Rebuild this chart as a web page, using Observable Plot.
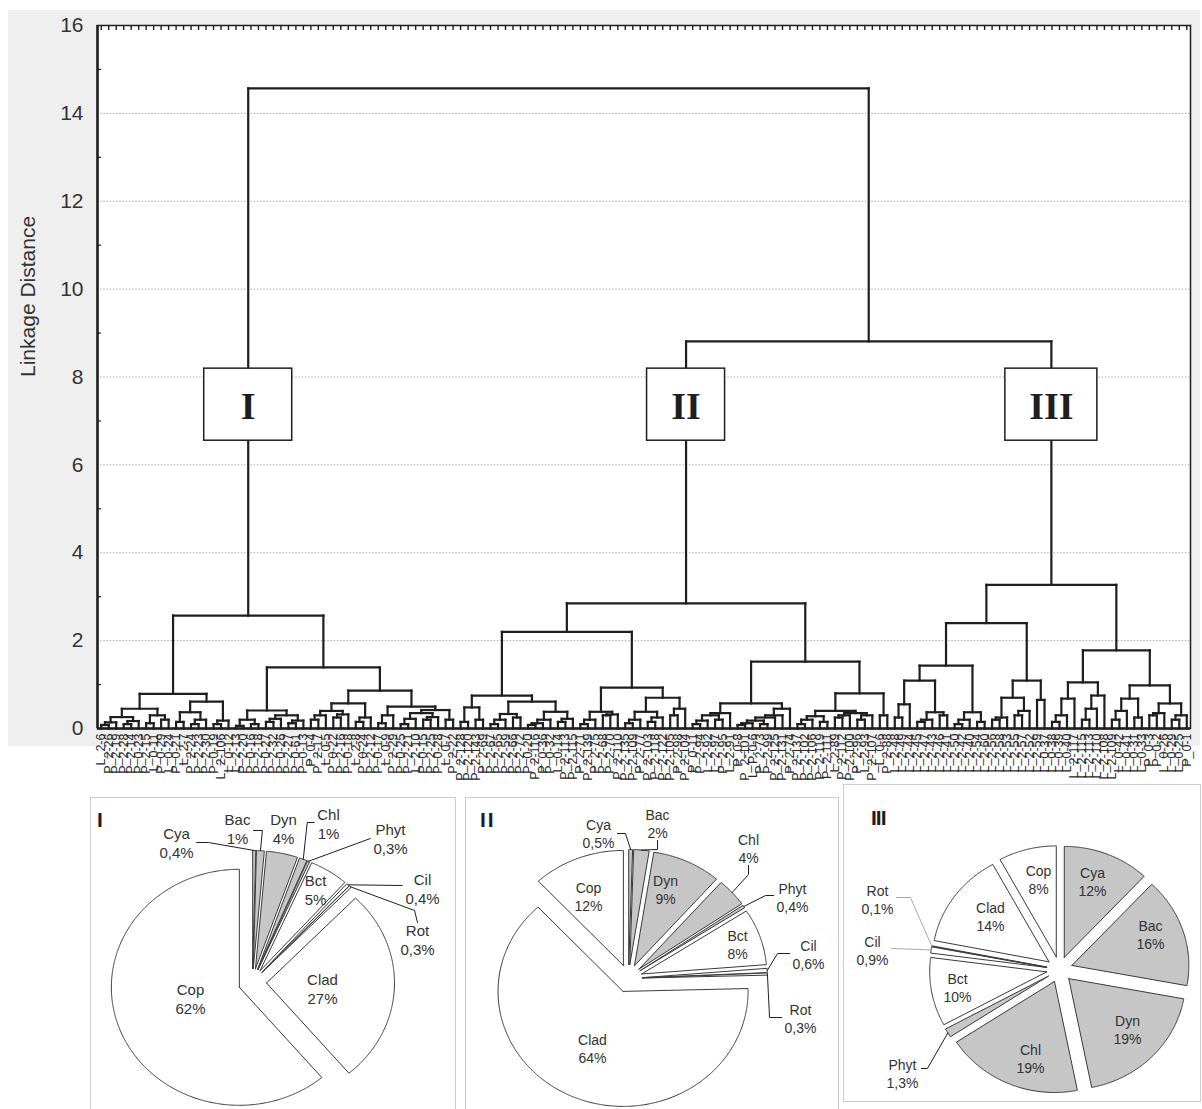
<!DOCTYPE html>
<html><head><meta charset="utf-8">
<script src="https://cdn.jsdelivr.net/npm/d3@7"></script>
<script src="https://cdn.jsdelivr.net/npm/@observablehq/plot@0.6"></script>
<style>
body{margin:0;background:#fff;}
#page{position:relative;width:1202px;height:1109px;overflow:hidden;font-family:Arial,"Liberation Sans",sans-serif;}
#page svg{position:absolute;}
.box{position:absolute;border:1px solid #cdcdcd;box-sizing:border-box;}
</style></head><body><div id="page"></div>
<script>
// ---------------- DATA ----------------
const leafLabels = [
"L_2-6","P_2-26","P_2-19","P_2-28","P_2-14","P_0-23","P_2-15","L_0-11","P_0-29","L_0-24","P_0-21","L_2-7","P_2-24","P_2-23","P_2-30","P_0-19","L_2-106","L_0-12","L_2-13","P_2-20","P_0-16","P_2-18","P_0-27","P_2-32","P_0-26","P_2-27","P_0-61","P_0-13","P_0-4","P_2-17","L_0-5","P_0-22","P_2-16","P_0-18","L_2-8","P_0-24","P_2-12","P_0-17","L_0-9","P_2-29","P_0-25","P_2-21","L_2-10","P_0-15","P_2-25","P_0-28","L_0-7","P_2-22",
"P_2-128","P_2-120","P_2-143","P_2-69","P_2-67","P_2-65","P_2-59","P_2-66","P_2-72","P_0-20","P_2-116","P_0-36","P_0-32","L_0-14","P_2-113","P_2-115","P_2-71","P_2-139","P_2-75","P_2-68","P_2-70","P_2-110","P_2-135","P_2-109","P_2-77","P_2-103","P_2-118","P_2-122","P_2-105","P_2-98","P_2-104","P_0-11","P_2-94","L_2-92","L_2-97","P_2-95","L_2-91","P_0-8","P_2-101","L_P-0-6","P_2-73","P_2-99","P_2-125","P_2-131","P_2-74","P_2-137","P_2-102","P_2-106","P_2-119","P_2-111","L_2-89","P_2-112","P_2-100","P_2-96","L_2-93","P_2-107","L_0-6","P_2-88",
"L_2-48","L_2-49","L_2-44","L_2-45","L_2-47","L_2-43","L_2-46","L_2-41","L_2-50","L_2-42","L_2-40","L_2-54","L_2-60","L_2-56","L_2-58","L_2-53","L_2-55","L_2-57","L_2-52","L_2-59","L_0-37","L_0-38","L_0-39","L_0-40","L_2-117","L_2-115","L_2-113","L_2-110","L_2-108","L_2-109","L_0-42","L_0-41","L_0-31","L_0-33","P_0-3","P_0-2","L_0-26","L_0-29","L_0-25","P_0-1"
];
// sub-clusters: "*" = next leaf, "(a,b)h" = merge at linkage distance h
const subA1 = "((((*,*)0.08,*)0.14,((*,*)0.1,*)0.17)0.26,((*,*)0.12,(*,*)0.2)0.3)0.45";
const subA2 = "(((*,*)0.15,((*,*)0.1,*)0.2)0.37,((*,*)0.1,*)0.18)0.61";
const subB1a = "((*,*)0.06,(*,*)0.1)0.2";
const subB1b = "(((*,*)0.15,*)0.22,((*,*)0.12,*)0.18)0.3";
const subB2a = "((((*,*)0.2,*)0.3,((*,*)0.25,*)0.32)0.4,((*,*)0.15,*)0.25)0.57";
const subB2b = "(((*,*)0.12,*)0.3,((((*,*)0.1,*)0.22,((*,*)0.2,*)0.26)0.35,(*,*)0.2)0.42)0.5";
const subIIa1L = "((*,*)0.15,(*,*)0.2)0.48";
const subIIa1R = "((((*,*)0.1,*)0.2,(*,*)0.25)0.33,((((*,*)0.08,*)0.12,*)0.2,((*,*)0.15,*)0.22)0.38)0.61";
const subIIa2L = "(((*,*)0.1,*)0.2,((*,*)0.3,*)0.32)0.38";
const subIIa2R = "((((*,*)0.12,*)0.2,((*,*)0.15,*)0.25)0.38,((*,*)0.3,*)0.45)0.7";
const subIIb1 = "(((((*,*)0.1,*)0.18,(*,*)0.2)0.3,*)0.35,((((((*,*)0.08,*)0.12,(*,*)0.1)0.18,*)0.25,*)0.3,*)0.45)0.57";
const subIIb2L = "((((*,*)0.1,*)0.2,(*,*)0.15)0.28,(((*,*)0.25,*)0.3,((*,*)0.2,*)0.3)0.35)0.4";
const subIIb2R = "(*,*)0.3";
const subIIIx = "((*,*)0.25,*)0.55";
const subIIIy = "(((*,*)0.15,*)0.2,(*,*)0.3)0.37";
const subIIIa1R = "(((*,*)0.1,*)0.2,(*,*)0.15)0.37";
const subIIIa2L = "(((*,*)0.2,*)0.25,((*,*)0.3,*)0.4)0.7";
const subIIIa2R = "(*,*)0.65";
const subIIIb1L = "(((*,*)0.15,*)0.3,*)0.68";
const subIIIb1R = "(((*,*)0.2,*)0.45,*)0.75";
const subIIIb2L = "(((*,*)0.2,*)0.4,(*,*)0.25)0.68";
const subIIIb2R = "(((*,*)0.3,*)0.35,((*,*)0.2,*)0.3)0.57";
const m = (a, b, h) => `(${a},${b})${h}`;
const treeI = m(m(subA1, subA2, 0.79), m(m(subB1a, subB1b, 0.41), m(subB2a, subB2b, 0.86), 1.39), 2.57);
const treeII = m(m(m(subIIa1L, subIIa1R, 0.75), m(subIIa2L, subIIa2R, 0.93), 2.2), m(subIIb1, m(subIIb2L, subIIb2R, 0.8), 1.52), 2.85);
const treeIII = m(m(m(m(subIIIx, subIIIy, 1.09), subIIIa1R, 1.43), m(subIIIa2L, subIIIa2R, 1.09), 2.4), m(m(subIIIb1L, subIIIb1R, 1.05), m(subIIIb2L, subIIIb2R, 0.98), 1.78), 3.27);
const treeAll = m(treeI, m(treeII, treeIII, 8.81), 14.57);
const clusterNames = ["I", "II", "III"];
const yTicks = [0, 2, 4, 6, 8, 10, 12, 14, 16];
const yMinorTicks = [1, 3, 5, 7, 9, 11, 13, 15];
const yLabel = "Linkage Distance";

const pieGroups = ["Cya", "Bac", "Dyn", "Chl", "Phyt", "Bct", "Cil", "Rot", "Clad", "Cop"];
const phytoGroups = ["Cya", "Bac", "Dyn", "Chl", "Phyt"];
const pieValuesI = [0.4, 1, 4, 1, 0.3, 5, 0.4, 0.3, 27, 62];
const pieValuesII = [0.5, 2, 9, 4, 0.4, 8, 0.6, 0.3, 64, 12];
const pieValuesIII = [12, 16, 19, 19, 1.3, 10, 0.9, 0.1, 14, 8];

// ---------------- LAYOUT / STYLE ----------------
const W = 1202;
const dM = {left: 97, right: 12, top: 25, bottom: 67};
const dH = 795;
const ink = "#1e1e1e";
const boxY = [6.55, 8.19];
const boxW = [88, 78, 92];

function parseTree(str) {
  let pos = 0;
  function node() {
    if (str[pos] === "*") { pos++; return {h: 0}; }
    if (str[pos] === "(") {
      pos++;
      const a = node(); pos++;
      const b = node(); pos++;
      const mm = /^[0-9.]+/.exec(str.slice(pos));
      pos += mm[0].length;
      return {h: +mm[0], children: [a, b]};
    }
    throw new Error("bad tree at " + pos);
  }
  return node();
}
const root = parseTree(treeAll);
let leafCount = 0;
const segs = [];
(function lay(n) {
  if (!n.children) { n.x = leafCount++; return; }
  n.children.forEach(lay);
  n.x = (n.children[0].x + n.children[1].x) / 2;
  segs.push({x1: n.children[0].x, x2: n.children[1].x, y1: n.h, y2: n.h});
  n.children.forEach(c => segs.push({x1: c.x, x2: c.x, y1: c.h, y2: n.h}));
})(root);
const N = leafCount;
const leafIdx = d3.range(N);
const pxPerLeaf = (W - dM.left - dM.right) / N;
const pxPerY = (dH - dM.top - dM.bottom) / 16;
const clusters = [root.children[0], root.children[1].children[0], root.children[1].children[1]]
  .map((n, i) => ({name: clusterNames[i], x: n.x, w: boxW[i]}));

const page = document.getElementById("page");
const bg = document.createElement("div");
Object.assign(bg.style, {position: "absolute", left: "8px", top: "10px", width: "1192px", height: "736px", background: "#efefef"});
page.appendChild(bg);

const dendro = Plot.plot({
  width: W, height: dH,
  marginLeft: dM.left, marginRight: dM.right, marginTop: dM.top, marginBottom: dM.bottom,
  x: {domain: [-0.5, N - 0.5], axis: null},
  y: {domain: [0, 16], axis: null},
  style: {background: "transparent", fontFamily: "Arial, 'Liberation Sans', sans-serif", color: "#222", overflow: "visible"},
  marks: [
    Plot.frame({fill: "white", stroke: ink, strokeWidth: 1.5}),
    Plot.ruleY(yTicks.filter(t => t > 0 && t < 16), {y: d => d, stroke: "#9a9a9a", strokeDasharray: "1.2,2", strokeWidth: 1}),
    Plot.ruleX(leafIdx, {x: d => d, y1: () => 16, y2: () => 16 - 5 / pxPerY, stroke: ink, strokeWidth: 1.4}),
    Plot.ruleY(yMinorTicks, {y: d => d, x1: () => -0.5, x2: () => -0.5 + 4 / pxPerLeaf, stroke: ink, strokeWidth: 1.2}),
    Plot.link(segs, {x1: "x1", x2: "x2", y1: "y1", y2: "y2", stroke: ink, strokeWidth: 2.2, strokeLinecap: "square"}),
    Plot.rect(clusters, {x1: d => d.x - d.w / 2 / pxPerLeaf, x2: d => d.x + d.w / 2 / pxPerLeaf, y1: () => boxY[0], y2: () => boxY[1], fill: "white", stroke: ink, strokeWidth: 1.5}),
    Plot.text(clusters, {x: "x", y: () => (boxY[0] + boxY[1]) / 2, text: "name", fontFamily: "'Liberation Serif', 'Times New Roman', serif", fontWeight: "bold", fontSize: 38, fill: ink, dy: 2}),
    Plot.ruleX([-0.5], {x: d => d, stroke: ink, strokeWidth: 2.5}),
    Plot.ruleY([0], {y: d => d, stroke: ink, strokeWidth: 2.5}),
    Plot.axisY({ticks: yTicks, tickSize: 0, tickPadding: 14, fontSize: 21, label: null, fill: "#333"}),
    Plot.axisX({ticks: leafIdx, tickFormat: i => leafLabels[i] || "", tickRotate: -90, tickSize: 0, tickPadding: 5, fontSize: 12.5, label: null, anchor: "bottom", fill: "#2a2a2a"}),
    Plot.text([yLabel], {frameAnchor: "left", dx: -69, rotate: -90, fontSize: 21, fill: "#333"})
  ]
});
dendro.style.left = "0px"; dendro.style.top = "0px";
page.appendChild(dendro);

// ---------------- PIES ----------------
const pieBoxes = [
  {x: 90, y: 797, w: 366, h: 320, cx: 252, cy: 982, rx: 128, ry: 118, ex: 14, fs: 15, roman: [-155, -162]},
  {x: 465, y: 797, w: 374, h: 320, cx: 628, cy: 978, rx: 125, ry: 115, ex: 14, fs: 14, roman: [-148, -158]},
  {x: 843, y: 784, w: 358, h: 318, cx: 1059, cy: 969, rx: 117, ry: 111, ex: 13, fs: 14, roman: [-188, -151]}
];
const labelOffsets = [
  [[-76,-140],[-15,-154],[31,-154],[76,-159],[138,-144],[63,-93],[170,-94],[165,-43],[70,6],[-62,16]],
  [[-30,-145],[29,-155],[37,-89],[120,-130],[164,-81],[109,-34],[180,-24],[172,40],[-36,70],[-40,-82]],
  [[33,-88],[91,-35],[68,60],[-29,89],[-157,104],[-102,18],[-187,-19],[-182,-70],[-69,-53],[-21,-90]]
];
const leaderSpecs = [
  {0: ["r",12,0,0,ink], 1: ["r",9,0,2,ink], 3: ["l",-7,0,-1,ink], 4: ["l",0,0,0,ink], 6: ["l",0,0,-3,ink], 7: ["t",-3,-12,0,ink]},
  {0: ["r",8,0,0,ink], 1: ["b",0,9,0,ink], 3: ["b",0,9,0,ink], 4: ["l",-8,0,-2,ink], 6: ["l",-12,0,-1,ink], 7: ["l",-12,0,-1,ink]},
  {4: ["r",6,0,-5,ink], 6: ["r",0,0,-2,"#a8a8a8"], 7: ["r",14,0,-2,"#a8a8a8"]}
];
const ctx = document.createElement("canvas").getContext("2d");
const fmtPct = v => String(v).replace(".", ",") + "%";

function drawPie(values, box, offsets, leaders) {
  const total = d3.sum(values);
  let acc = 0;
  const slices = values.map((v, i) => {
    const a0 = acc / total * 2 * Math.PI; acc += v;
    const a1 = acc / total * 2 * Math.PI;
    const mid = (a0 + a1) / 2;
    const ax = box.ex * Math.sin(mid), ay = -box.ex * Math.cos(mid);
    const n = Math.max(2, Math.ceil((a1 - a0) / (Math.PI / 360)));
    const pts = [{x: ax, y: ay}];
    for (let k = 0; k <= n; k++) {
      const a = a0 + (a1 - a0) * k / n;
      pts.push({x: ax + box.rx * Math.sin(a), y: ay - box.ry * Math.cos(a)});
    }
    pts.push({x: ax, y: ay});
    return {i, group: pieGroups[i], value: v, pts,
      target: {x: ax + box.rx * Math.sin(mid), y: ay - box.ry * Math.cos(mid)}};
  });
  ctx.font = box.fs + "px Arial, 'Liberation Sans'";
  const labels = slices.map(s => {
    const text = s.group + "\n" + fmtPct(s.value);
    const w = d3.max(text.split("\n"), t => ctx.measureText(t).width);
    return {x: offsets[s.i][0], y: offsets[s.i][1], text, w, i: s.i};
  });
  const leaderLines = [];
  labels.forEach(l => {
    const sp = leaders[l.i]; if (!sp) return;
    const [side, ex, ey, sy, color] = sp;
    let st;
    if (side === "r") st = {x: l.x + l.w / 2 + 3, y: l.y + sy};
    else if (side === "l") st = {x: l.x - l.w / 2 - 3, y: l.y + sy};
    else if (side === "t") st = {x: l.x, y: l.y - 17 + sy};
    else st = {x: l.x, y: l.y + 17 + sy};
    const tg = slices[l.i].target;
    leaderLines.push({id: l.i, color, pts: [st, {x: st.x + ex, y: st.y + ey}, tg]});
  });
  const marks = slices.map(s => Plot.line(s.pts, {x: "x", y: "y",
    fill: phytoGroups.includes(s.group) ? "#c6c6c6" : "white", stroke: "#3a3a3a", strokeWidth: 1}));
  leaderLines.forEach(L => marks.push(Plot.line(L.pts, {x: "x", y: "y", stroke: L.color, strokeWidth: 1})));
  marks.push(Plot.text(labels, {x: "x", y: "y", text: "text", fontSize: box.fs, lineHeight: 1.3, fill: "#333"}));
  return Plot.plot({
    width: box.w, height: box.h, margin: 0,
    x: {domain: [box.x - box.cx, box.x + box.w - box.cx], range: [0, box.w], axis: null},
    y: {domain: [box.y - box.cy, box.y + box.h - box.cy], range: [0, box.h], axis: null},
    style: {background: "transparent", fontFamily: "Arial, 'Liberation Sans', sans-serif", overflow: "visible"},
    marks
  });
}
const pieValues = [pieValuesI, pieValuesII, pieValuesIII];
pieBoxes.forEach((box, k) => {
  const frame = document.createElement("div");
  frame.className = "box";
  Object.assign(frame.style, {left: box.x + "px", top: box.y + "px", width: box.w + "px", height: box.h + "px"});
  page.appendChild(frame);
  const chart = drawPie(pieValues[k], box, labelOffsets[k], leaderSpecs[k]);
  chart.style.left = box.x + "px"; chart.style.top = box.y + "px";
  page.appendChild(chart);
  const r = document.createElement("div");
  r.textContent = clusterNames[k];
  Object.assign(r.style, {position: "absolute", left: (box.cx + box.roman[0]) + "px", top: (box.cy + box.roman[1] - 13) + "px",
    fontSize: "21px", fontWeight: "900", color: "#1e1e1e", fontFamily: "Arial, 'Liberation Sans', sans-serif", lineHeight: "26px",
    letterSpacing: k === 1 ? "2px" : (k === 2 ? "-1px" : "0px")});
  page.appendChild(r);
});
</script></body></html>
